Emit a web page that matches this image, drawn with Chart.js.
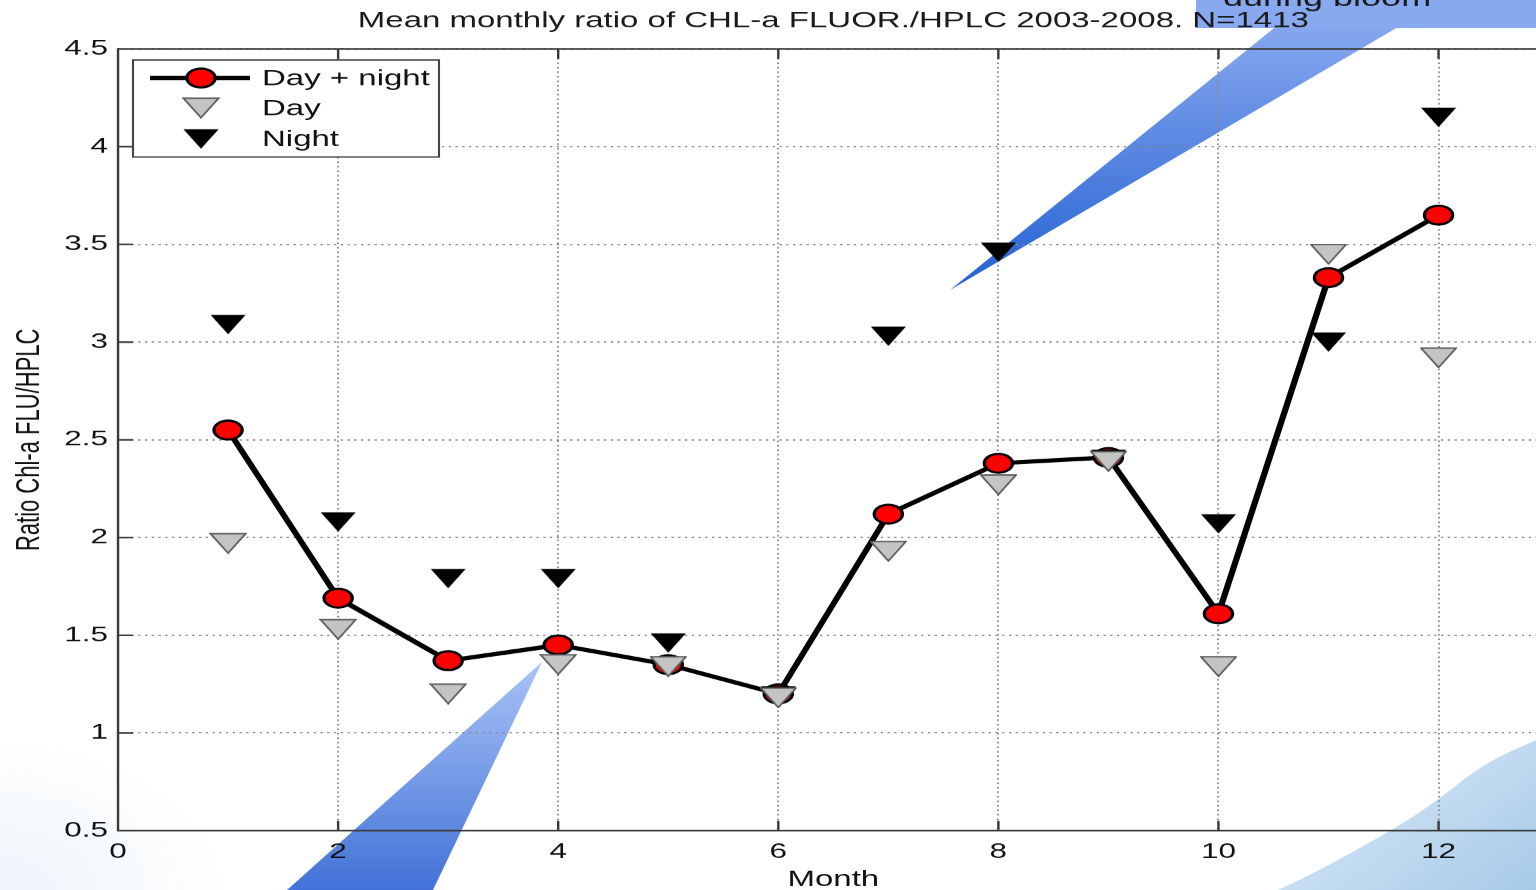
<!DOCTYPE html>
<html>
<head>
<meta charset="utf-8">
<title>Mean monthly ratio of CHL-a FLUOR./HPLC</title>
<script src="https://cdn.jsdelivr.net/npm/chart.js@4.4.1/dist/chart.umd.min.js"></script>
<style>
  html, body { margin: 0; padding: 0; background: #fff; overflow: hidden; }
  #wrap { width: 1536px; height: 890px; overflow: hidden; }
  /* the source figure is stretched sideways, so draw narrow and widen with css */
  #chart { display: block; width: 1566px !important; height: 890px !important; }
</style>
</head>
<body>
<div id="wrap"><canvas id="chart" width="1044" height="890"></canvas></div>
<script>
const months = [1, 2, 3, 4, 5, 6, 7, 8, 9, 10, 11, 12];
const dayNight = [2.55, 1.69, 1.37, 1.45, 1.35, 1.20, 2.12, 2.38, 2.41, 1.61, 3.33, 3.65];
const dayOnly = [1.97, 1.53, 1.20, 1.35, 1.34, 1.18, 1.93, 2.27, 2.39, 1.34, 3.45, 2.92];
const nightOnly = [3.09, 2.08, 1.79, 1.79, 1.46, 1.19, 3.03, 3.46, 2.40, 2.07, 3.00, 4.15];
const seriesNames = ['Day + night', 'Day', 'Night'];
const xTicks = [0, 2, 4, 6, 8, 10, 12];
const yTicks = [0.5, 1, 1.5, 2, 2.5, 3, 3.5, 4, 4.5];

const SX = 1.5; // horizontal stretch of the picture
const FONT = "'Liberation Sans', Arial, Helvetica, sans-serif";
const X = (v) => v / SX; // screen px -> canvas px (horizontal)

function triangleImage(fill, stroke) {
  const k = 4, w = 25, h = 21;
  const c = document.createElement('canvas');
  c.width = w * k;
  c.height = h * k;
  const g = c.getContext('2d');
  g.scale(k, k);
  g.beginPath();
  g.moveTo(0.8, 0.8);
  g.lineTo(w - 0.8, 0.8);
  g.lineTo(w / 2, h - 0.8);
  g.closePath();
  g.fillStyle = fill;
  g.fill();
  if (stroke) {
    g.strokeStyle = stroke;
    g.lineWidth = 1.3;
    g.stroke();
  }
  const img = new Image(w, h);
  img.src = c.toDataURL();
  return img;
}

const dayMarker = triangleImage('#c4c4c4', '#5a5a5a');
const nightMarker = triangleImage('#000000', null);

const backdrop = {
  id: 'backdrop',
  beforeDraw(chart) {
    const ctx = chart.ctx;
    ctx.save();
    ctx.fillStyle = '#fff';
    ctx.fillRect(0, 0, chart.width, chart.height);

    // pale tint lower left (slide background)
    let g = ctx.createRadialGradient(0, 890, 0, 0, 890, 150);
    g.addColorStop(0, 'rgba(210,228,244,0.4)');
    g.addColorStop(1, 'rgba(210,228,244,0)');
    ctx.fillStyle = g;
    ctx.fillRect(0, 700, X(400), 190);

    // blue swoosh lower right
    const sw = [[1240, 905], [1283, 890], [1393, 830], [1438, 800], [1483, 764], [1540, 738], [1575, 726]];
    ctx.beginPath();
    ctx.moveTo(X(sw[0][0]), sw[0][1]);
    for (let i = 1; i < sw.length - 1; i++) {
      const mx = (sw[i][0] + sw[i + 1][0]) / 2;
      const my = (sw[i][1] + sw[i + 1][1]) / 2;
      ctx.quadraticCurveTo(X(sw[i][0]), sw[i][1], X(mx), my);
    }
    ctx.lineTo(X(1575), 726);
    ctx.lineTo(X(1575), 905);
    ctx.closePath();
    g = ctx.createLinearGradient(X(1300), 750, X(1536), 890);
    g.addColorStop(0, '#dcebf7');
    g.addColorStop(1, '#a7cae8');
    ctx.fillStyle = g;
    ctx.fill();

    // callout: top right box + wedge
    g = ctx.createLinearGradient(0, 28, 0, 290);
    g.addColorStop(0, '#86a7ef');
    g.addColorStop(1, '#2461d2');
    ctx.fillStyle = g;
    ctx.beginPath();
    ctx.moveTo(X(950), 290);
    ctx.lineTo(X(1284), 20);
    ctx.lineTo(X(1410), 20);
    ctx.closePath();
    ctx.fill();
    ctx.fillStyle = '#88a9f0';
    ctx.fillRect(X(1196), 0, X(1575) - X(1196), 28);
    ctx.fillStyle = '#1a1a1a';
    ctx.font = '24px ' + FONT;
    ctx.textAlign = 'left';
    ctx.textBaseline = 'alphabetic';
    ctx.fillText('during bloom', X(1223), 6);

    // callout: bottom left wedge
    g = ctx.createLinearGradient(0, 662, 0, 890);
    g.addColorStop(0, '#a9c3f6');
    g.addColorStop(1, '#4272d8');
    ctx.fillStyle = g;
    ctx.beginPath();
    ctx.moveTo(X(542), 662);
    ctx.lineTo(X(287), 890);
    ctx.lineTo(X(433), 890);
    ctx.closePath();
    ctx.fill();
    ctx.restore();
  }
};

const frame = {
  id: 'frame',
  beforeDatasetsDraw(chart) {
    const { ctx, chartArea: { left, right, top, bottom } } = chart;
    const xs = chart.scales.x;
    const ys = chart.scales.y;
    ctx.save();
    ctx.strokeStyle = '#3a3a3a';
    ctx.lineWidth = 1.6;
    ctx.beginPath();
    ctx.moveTo(right, top);
    ctx.lineTo(left, top);
    ctx.lineTo(left, bottom);
    ctx.lineTo(right, bottom);
    xs.ticks.forEach((t) => {
      const p = xs.getPixelForValue(t.value);
      ctx.moveTo(p, bottom);
      ctx.lineTo(p, bottom - 10);
      ctx.moveTo(p, top);
      ctx.lineTo(p, top + 10);
    });
    ys.ticks.forEach((t) => {
      const p = ys.getPixelForValue(t.value);
      ctx.moveTo(left, p);
      ctx.lineTo(left + 10, p);
    });
    ctx.stroke();
    ctx.restore();
  }
};

const boxLegend = {
  id: 'boxLegend',
  afterDraw(chart) {
    const ctx = chart.ctx;
    const x0 = X(133), y0 = 60, w = X(439) - X(133), h = 97;
    const cx = X(201);
    const rows = [78, 108, 139];
    ctx.save();
    ctx.fillStyle = '#fff';
    ctx.fillRect(x0, y0, w, h);
    ctx.strokeStyle = '#444';
    ctx.lineWidth = 1.4;
    ctx.strokeRect(x0, y0, w, h);

    const ds = chart.data.datasets;
    // row 1: line + circle
    ctx.strokeStyle = ds[0].borderColor;
    ctx.lineWidth = ds[0].borderWidth;
    ctx.beginPath();
    ctx.moveTo(X(150), rows[0]);
    ctx.lineTo(X(250), rows[0]);
    ctx.stroke();
    ctx.beginPath();
    ctx.arc(cx, rows[0], ds[0].pointRadius, 0, Math.PI * 2);
    ctx.fillStyle = ds[0].pointBackgroundColor;
    ctx.fill();
    ctx.lineWidth = ds[0].pointBorderWidth;
    ctx.strokeStyle = ds[0].pointBorderColor;
    ctx.stroke();
    // rows 2, 3: triangles
    [ds[1].pointStyle, ds[2].pointStyle].forEach((img, i) => {
      ctx.drawImage(img, cx - img.width / 2, rows[i + 1] - img.height / 2, img.width, img.height);
    });

    ctx.fillStyle = '#111';
    ctx.font = '22px ' + FONT;
    ctx.textAlign = 'left';
    ctx.textBaseline = 'middle';
    ds.forEach((d, i) => ctx.fillText(d.label, X(262), rows[i] + 1));
    ctx.restore();
  }
};

const pts = (ys) => months.map((m, i) => ({ x: m, y: ys[i] }));

function draw() {
  new Chart(document.getElementById('chart'), {
    type: 'line',
    data: {
      datasets: [
        {
          label: seriesNames[0],
          data: pts(dayNight),
          order: 3,
          borderColor: '#000',
          borderWidth: 4.2,
          tension: 0,
          pointStyle: 'circle',
          pointRadius: 9.4,
          pointBackgroundColor: '#ff0000',
          pointBorderColor: '#000',
          pointBorderWidth: 2.2
        },
        {
          label: seriesNames[1],
          data: pts(dayOnly),
          order: 1,
          showLine: false,
          pointStyle: dayMarker,
          pointRadius: 10
        },
        {
          label: seriesNames[2],
          data: pts(nightOnly),
          order: 2,
          showLine: false,
          pointStyle: nightMarker,
          pointRadius: 10
        }
      ]
    },
    options: {
      responsive: false,
      devicePixelRatio: 1.5,
      animation: false,
      events: [],
      layout: { padding: { left: 0, right: 0, top: 0, bottom: 3.5 } },
      scales: {
        x: {
          type: 'linear',
          min: 0,
          max: 13,
          afterBuildTicks: (s) => { s.ticks = xTicks.map((v) => ({ value: v })); },
          ticks: {
            callback: (v) => String(v),
            font: { family: FONT, size: 21 },
            color: '#111',
            padding: 8.7,
            maxRotation: 0,
            autoSkip: false
          },
          grid: { color: '#8a8a8a', lineWidth: 1.3, drawTicks: false },
          border: { display: false, dash: [1.5, 3] },
          title: {
            display: true,
            text: 'Month',
            color: '#111',
            font: { family: FONT, size: 22, lineHeight: 0.6 },
            padding: { top: 0, bottom: 0 }
          }
        },
        y: {
          min: 0.5,
          max: 4.5,
          afterBuildTicks: (s) => { s.ticks = yTicks.map((v) => ({ value: v })); },
          ticks: {
            callback: (v) => String(v),
            font: { family: FONT, size: 21 },
            color: '#111',
            padding: 6.7,
            autoSkip: false
          },
          grid: { color: '#8a8a8a', lineWidth: 1.4, drawTicks: false },
          border: { display: false, dash: [1.5, 3] },
          title: {
            display: true,
            text: 'Ratio Chl-a FLU/HPLC',
            color: '#111',
            font: { family: FONT, size: 22 },
            padding: { top: 6.8, bottom: 2.9 }
          }
        }
      },
      plugins: {
        legend: { display: false },
        tooltip: { enabled: false },
        title: {
          display: true,
          fullSize: false,
          text: 'Mean monthly ratio of CHL-a FLUOR./HPLC 2003-2008. N=1413',
          color: '#1a1a1a',
          font: { family: FONT, size: 22, weight: 'normal' },
          padding: { top: 8, bottom: 14.6 }
        }
      }
    },
    plugins: [backdrop, frame, boxLegend]
  });
}

Promise.all([dayMarker.decode(), nightMarker.decode()]).then(draw, draw);
</script>
</body>
</html>
